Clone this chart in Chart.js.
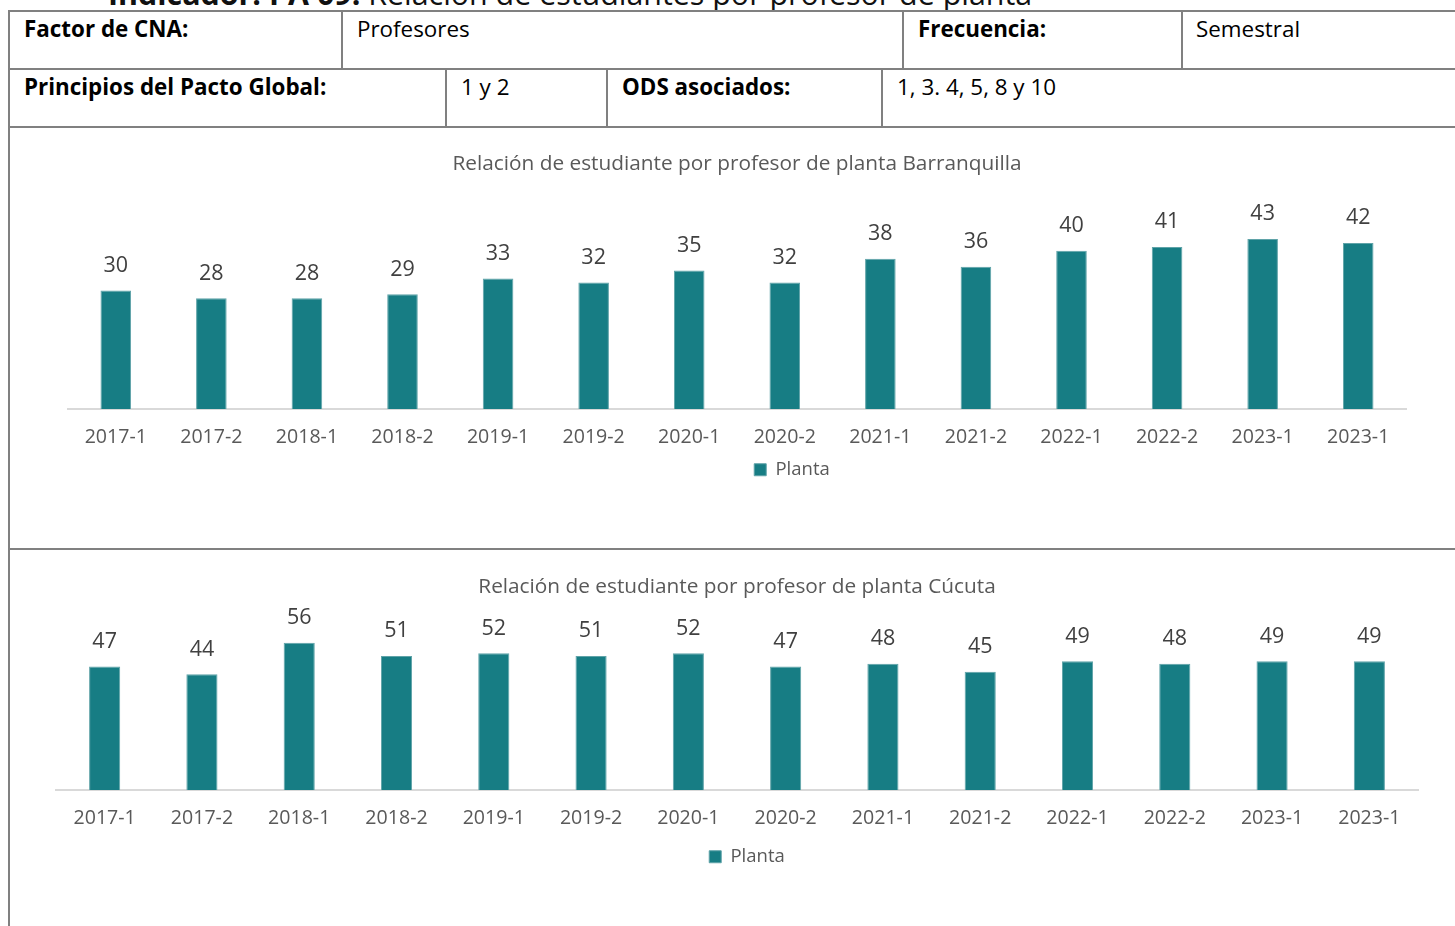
<!DOCTYPE html>
<html>
<head>
<meta charset="utf-8">
<script src="https://cdn.jsdelivr.net/npm/chart.js@4.4.0/dist/chart.umd.min.js"></script>
<style>
  body { margin: 0; background: #fff; width: 1455px; height: 926px; overflow: hidden; position: relative; font-family: "Open Sans", sans-serif; color: #000; }
  .ln { position: absolute; background: #808080; }
  .t { position: absolute; font-size: 22.4px; line-height: 1; white-space: nowrap; }
  .b { font-weight: bold; }
  canvas { position: absolute; }
</style>
</head>
<body>
<div class="t" style="left:108px;top:-21px;font-size:30.4px;color:#111"><span class="b">Indicador: PA 09:</span> Relación de estudiantes por profesor de planta</div>

<!-- table lines -->
<div class="ln" style="left:9px;top:10px;width:1446px;height:2px"></div>
<div class="ln" style="left:9px;top:68px;width:1446px;height:2px"></div>
<div class="ln" style="left:9px;top:126px;width:1446px;height:2px"></div>
<div class="ln" style="left:9px;top:548px;width:1446px;height:2px"></div>
<div class="ln" style="left:8px;top:10px;width:2px;height:916px"></div>
<div class="ln" style="left:341px;top:10px;width:2px;height:59px"></div>
<div class="ln" style="left:902px;top:10px;width:2px;height:59px"></div>
<div class="ln" style="left:1181px;top:10px;width:2px;height:59px"></div>
<div class="ln" style="left:445px;top:68px;width:2px;height:59px"></div>
<div class="ln" style="left:606px;top:68px;width:2px;height:59px"></div>
<div class="ln" style="left:881px;top:68px;width:2px;height:59px"></div>

<div class="t b" style="left:24px;top:18px">Factor de CNA:</div>
<div class="t" style="left:357px;top:18px">Profesores</div>
<div class="t b" style="left:918px;top:18px">Frecuencia:</div>
<div class="t" style="left:1196px;top:18px">Semestral</div>
<div class="t b" style="left:24px;top:76px">Principios del Pacto Global:</div>
<div class="t" style="left:461px;top:76px">1 y 2</div>
<div class="t b" style="left:622px;top:76px">ODS asociados:</div>
<div class="t" style="left:897px;top:76px">1, 3. 4, 5, 8 y 10</div>

<canvas id="chart1" style="left:11px;top:129px"></canvas>
<canvas id="chart2" style="left:11px;top:551px"></canvas>

<script>
// Semesters shown on both charts (the last label repeats in the source)
const semestres = ["2017-1", "2017-2", "2018-1", "2018-2", "2019-1", "2019-2", "2020-1",
  "2020-2", "2021-1", "2021-2", "2022-1", "2022-2", "2023-1", "2023-1"];

// Students per full-time professor
const barranquilla = [30, 28, 28, 29, 33, 32, 35, 32, 38, 36, 40, 41, 43, 42];
const cucuta = [47, 44, 56, 51, 52, 51, 52, 47, 48, 45, 49, 48, 49, 49];

const barColor = "#177D84";
const textColor = "#595959";
const fontFamily = "'Open Sans', sans-serif";

// Draws the value above each bar
const valueLabels = {
  id: "valueLabels",
  afterDatasetsDraw(chart) {
    const ctx = chart.ctx;
    ctx.save();
    ctx.font = "21.5px " + fontFamily;
    ctx.fillStyle = "#404040";
    ctx.textAlign = "center";
    ctx.textBaseline = "bottom";
    chart.getDatasetMeta(0).data.forEach((bar, i) => {
      ctx.fillText(chart.data.datasets[0].data[i], bar.x, bar.y - 14);
    });
    ctx.restore();
  },
};

// Legend in the source sits a bit right of centre and close to the labels
const legendShift = {
  id: "legendShift",
  afterLayout(chart, args, opts) {
    chart.legend.left += opts.dx;
    chart.legend.right += opts.dx;
    chart.legend.top += opts.dy;
    chart.legend.bottom += opts.dy;
  },
};

function makeChart(id, width, height, title, values, yMax, pad, titleTop, dx, dy) {
  const canvas = document.getElementById(id);
  canvas.width = width;
  canvas.height = height;
  canvas.style.width = width + "px";
  canvas.style.height = height + "px";
  return new Chart(canvas.getContext("2d"), {
    type: "bar",
    data: {
      labels: semestres,
      datasets: [
        {
          label: "Planta",
          data: values,
          backgroundColor: barColor,
          borderColor: "#5FA3A8",
          borderWidth: 1,
          categoryPercentage: 1,
          barPercentage: 0.32,
        },
      ],
    },
    options: {
      responsive: false,
      animation: false,
      layout: { padding: pad },
      scales: {
        x: {
          grid: { display: false, drawTicks: false },
          border: { display: true, color: "#D9D9D9", width: 2 },
          ticks: { color: textColor, font: { size: 19.6, family: fontFamily }, padding: 17, maxRotation: 0 },
        },
        y: {
          display: false,
          min: 0,
          max: yMax,
        },
      },
      plugins: {
        title: {
          display: true,
          text: title,
          color: textColor,
          font: { size: 20.8, family: fontFamily, weight: "normal" },
          padding: { top: titleTop, bottom: 6 },
        },
        legend: {
          position: "bottom",
          labels: {
            color: textColor,
            font: { size: 18.5, family: fontFamily },
            boxWidth: 12,
            boxHeight: 12,
          },
        },
        legendShift: { dx: dx, dy: dy },
        tooltip: { enabled: false },
      },
    },
    plugins: [valueLabels, legendShift],
  });
}

makeChart("chart1", 1444, 418, "Relación de estudiante por profesor de planta Barranquilla",
  barranquilla, 57.3, { left: 57, right: 49, top: 0, bottom: 42 }, 22.5, 55, -16);
makeChart("chart2", 1444, 375, "Relación de estudiante por profesor de planta Cúcuta",
  cucuta, 70.1, { left: 45, right: 37, top: 0, bottom: 40 }, 23.7, 10, -10);
</script>
</body>
</html>
